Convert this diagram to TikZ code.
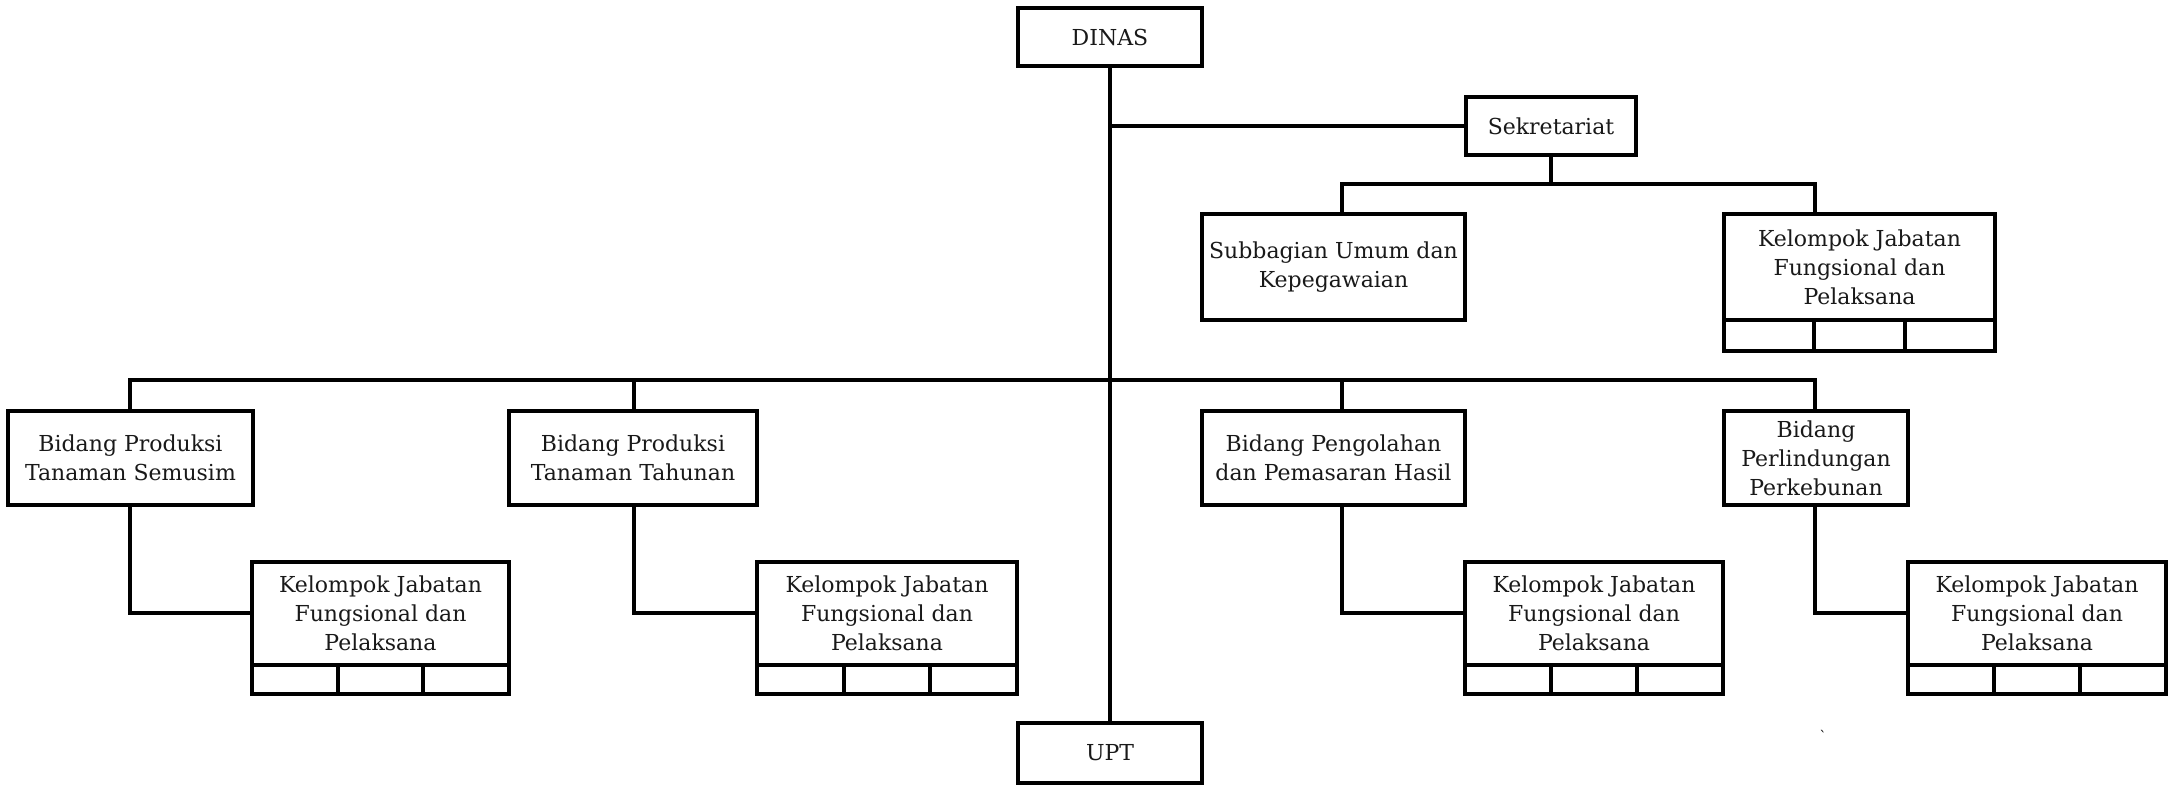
\documentclass[tikz,border=0pt]{standalone}
\usepackage{fontspec}
\setmainfont{DejaVu Serif}
\usetikzlibrary{calc}
\tikzset{
  unit/.style={draw=black, line width=2pt, align=center, inner sep=1pt, outer sep=0pt,
    font=\fontsize{11}{14.5}\selectfont, text=black!90},
  cell/.style={draw=black, line width=2pt, inner sep=0pt, outer sep=0pt},
  link/.style={draw=black, line width=2pt},
}
\newcommand\kelbox[6]{% name, x, y, width, text height (pt), cell height (pt)
  \node[unit, minimum width=#4*0.5pt, minimum height=#5pt] (#1) at (#2,#3) {Kelompok Jabatan\\Fungsional dan\\Pelaksana};
  \node[cell, minimum width=#4*0.5pt/3, minimum height=#6pt, anchor=north west] (#1a) at (#1.south west) {};
  \node[cell, minimum width=#4*0.5pt/3, minimum height=#6pt, anchor=north west] (#1b) at (#1a.north east) {};
  \node[cell, minimum width=#4*0.5pt/3, minimum height=#6pt, anchor=north west] (#1c) at (#1b.north east) {};
}
\begin{document}
\begin{tikzpicture}[x=0.5pt,y=-0.5pt]
\useasboundingbox (0,0) rectangle (2169,785);
% top
\node[unit, minimum width=92pt, minimum height=29pt] (dinas) at (1110,37) {DINAS};
\node[unit, minimum width=85pt, minimum height=29pt] (sek) at (1551,126) {Sekretariat};
\node[unit, minimum width=131.5pt, minimum height=53pt] (sub) at (1333.5,267) {Subbagian Umum dan\\Kepegawaian};
\kelbox{kt}{1859.5}{267}{271}{53}{15.5}
% bidang
\node[unit, minimum width=122.5pt, minimum height=47pt] (bp1) at (130.5,458) {Bidang Produksi\\Tanaman Semusim};
\node[unit, minimum width=124pt, minimum height=47pt] (bp2) at (633,458) {Bidang Produksi\\Tanaman Tahunan};
\node[unit, minimum width=131.5pt, minimum height=47pt] (bph) at (1333.5,458) {Bidang Pengolahan\\dan Pemasaran Hasil};
\node[unit, minimum width=92pt, minimum height=47pt] (bpl) at (1816,458) {Bidang\\Perlindungan\\Perkebunan};
% kelompok
\kelbox{k1}{380.5}{613.5}{257}{51.5}{14.5}
\kelbox{k2}{887}{613.5}{260}{51.5}{14.5}
\kelbox{k3}{1594}{613.5}{258}{51.5}{14.5}
\kelbox{k4}{2037}{613.5}{258}{51.5}{14.5}
% upt
\node[unit, minimum width=92pt, minimum height=30pt] (upt) at (1110,753) {UPT};
% stray mark
\node[inner sep=0pt, font=\fontsize{7}{7}\selectfont] (stray) at (1823,736) {\textasciigrave};
% bus coordinates
\coordinate (sbus) at (1551,184);
\coordinate (sb1) at (1342,184);
\coordinate (sb2) at (1815,184);
\coordinate (mb1) at (130,380);
\coordinate (mb2) at (634,380);
\coordinate (mb3) at (1342,380);
\coordinate (mb4) at (1815,380);
% connectors
\draw[link] (dinas.south) -- (upt.north);
\draw[link] (dinas.south |- sek.west) -- (sek.west);
\draw[link] (sek.south) -- (sbus);
\draw[link] (sb1 |- sub.north) -- (sb1) -- (sb2) -- (sb2 |- kt.north);
\draw[link] (mb1 |- bp1.north) -- (mb1) -- (mb4) -- (mb4 |- bpl.north);
\draw[link] (mb2) -- (mb2 |- bp2.north);
\draw[link] (mb3) -- (mb3 |- bph.north);
\draw[link] (mb1 |- bp1.south) |- (k1.west);
\draw[link] (mb2 |- bp2.south) |- (k2.west);
\draw[link] (mb3 |- bph.south) |- (k3.west);
\draw[link] (mb4 |- bpl.south) |- (k4.west);
\end{tikzpicture}
\end{document}
